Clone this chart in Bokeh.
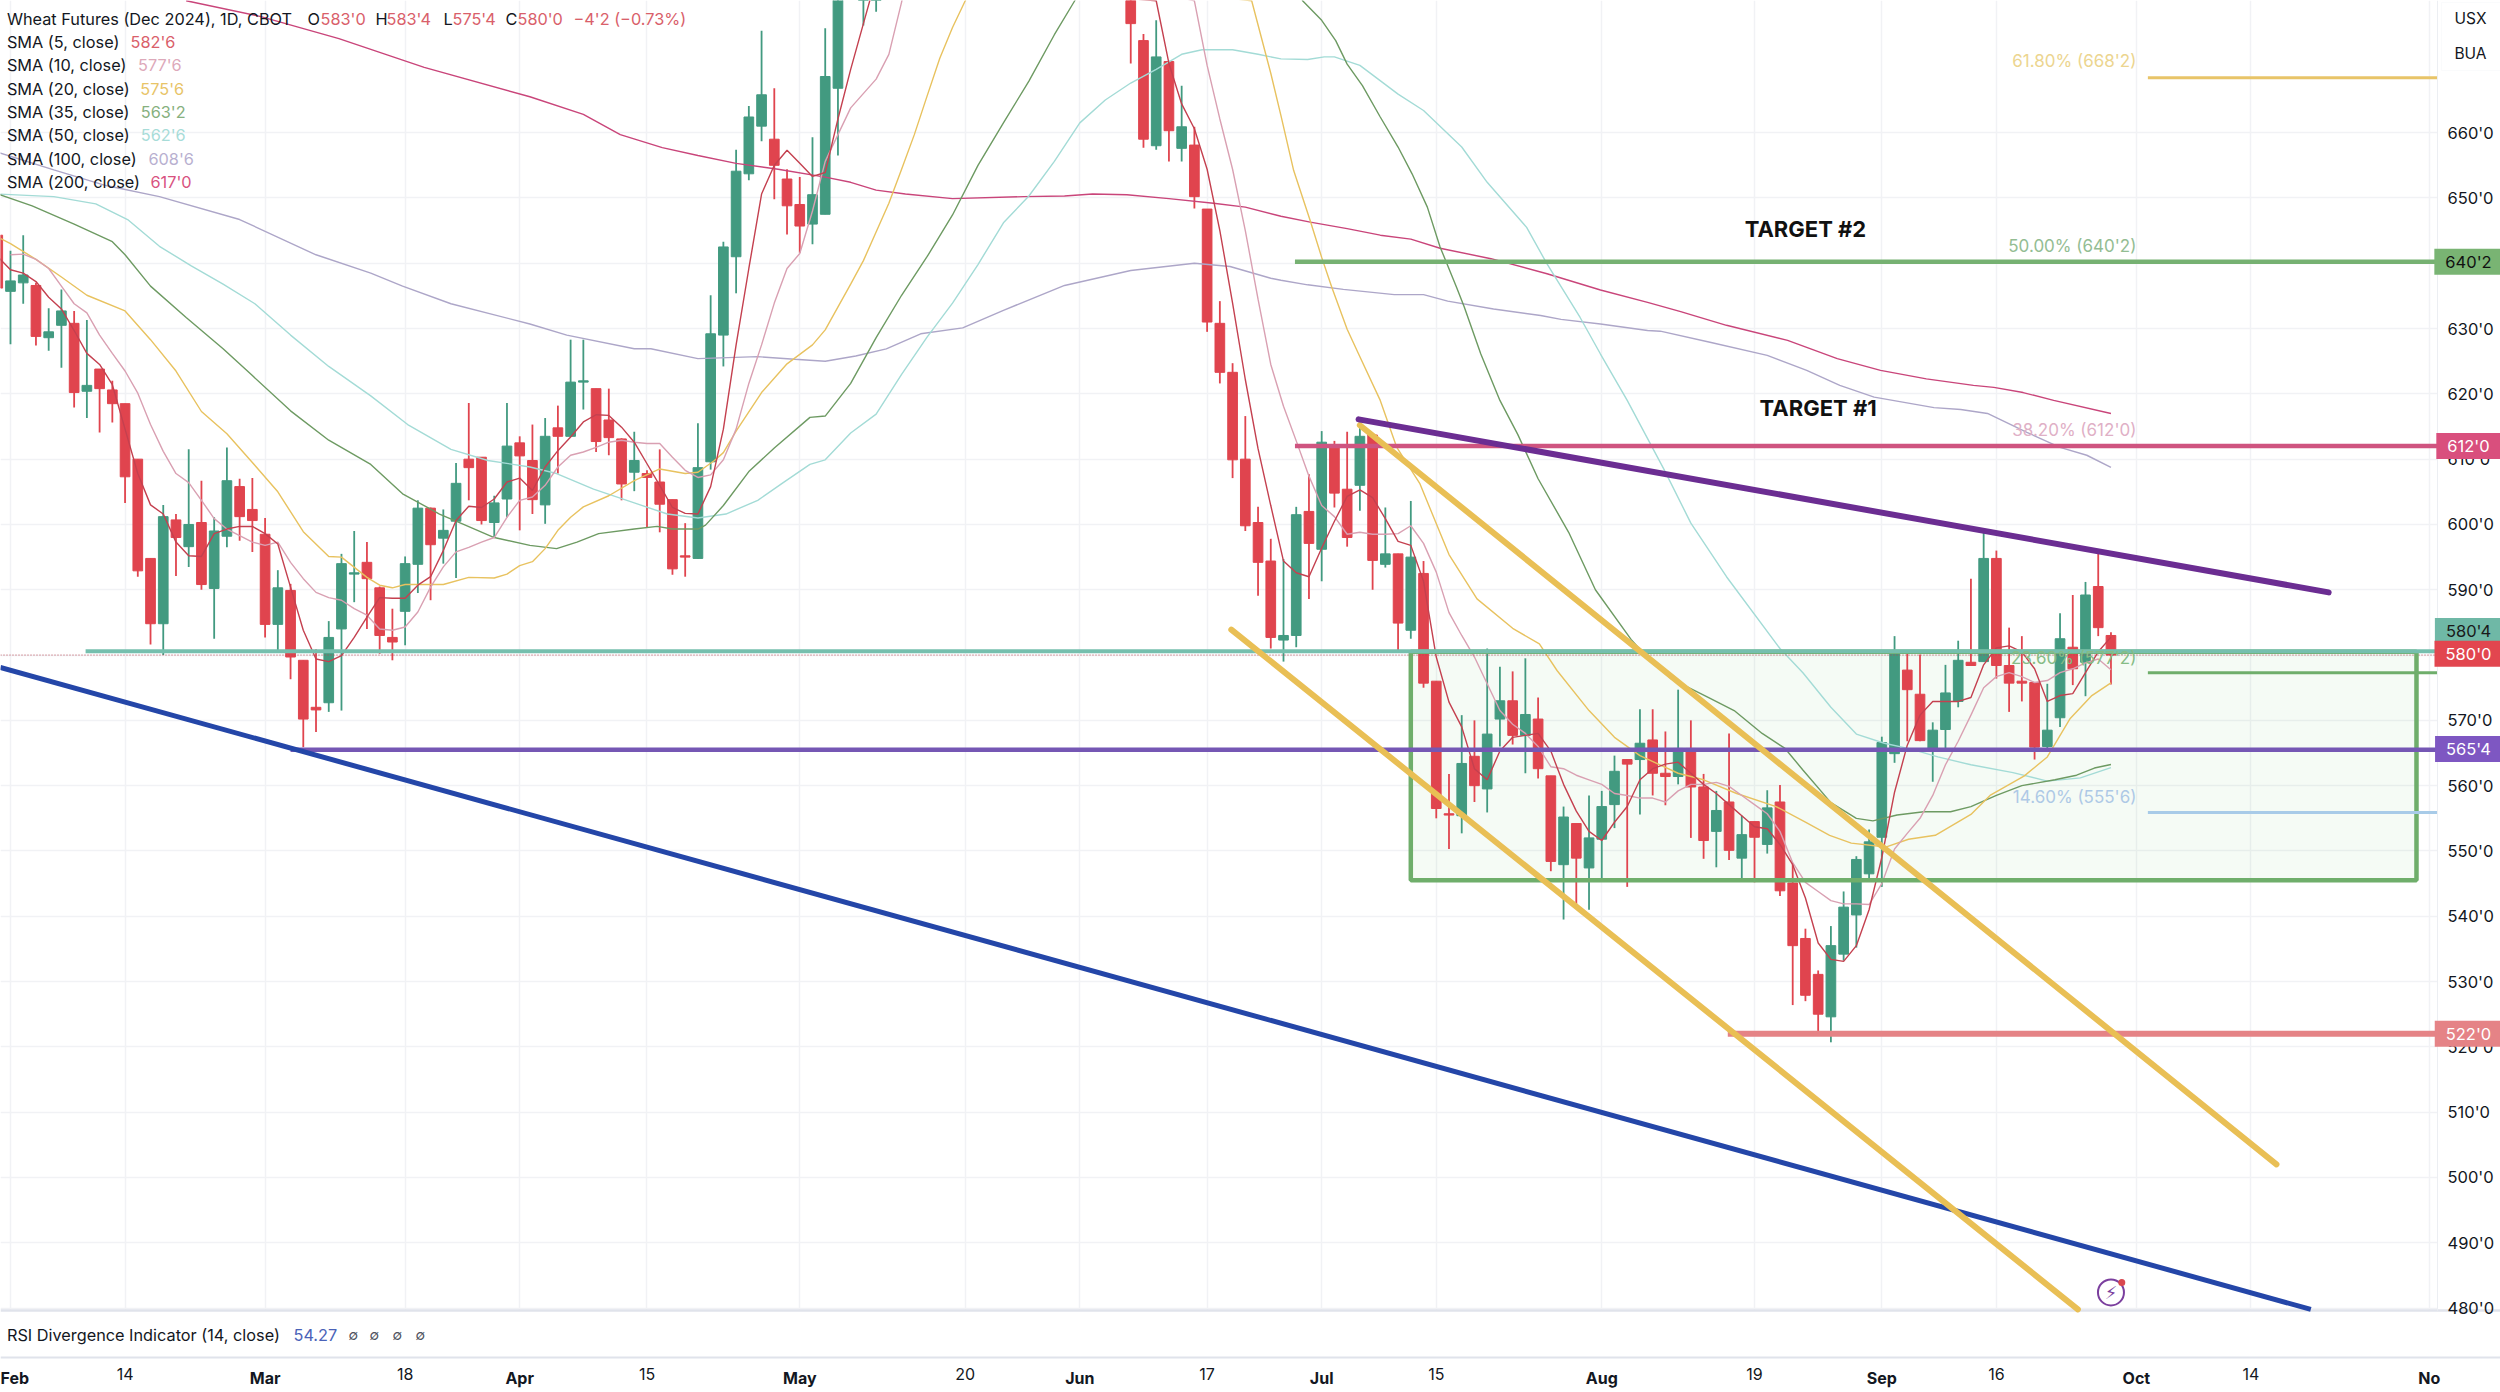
from bokeh.plotting import figure
from bokeh.models import Range1d, LinearAxis, FixedTicker, Label, BoxAnnotation, ColumnDataSource, Grid
from bokeh.core.properties import value
from bokeh.embed import file_html
from bokeh.resources import INLINE
import numpy as np

FONT = "Inter"

# ---------- candles, bar numbers run from -1 upward; None = bar lies wholly above the visible window
FIRST_BAR = -1
OPEN = [644.3, 635.7, 637, 636.6, 628.6, 630.5, 630.8, 620.4, 623.8, 620.6, 618.5,
        610, 594.8, 584.8, 600.7, 596.6, 600.3, 590.2, 598.2, 605.8, 602.3,
        598.5, 584.7, 589.9, 579.2, 572, 572.7, 584, 592.4, 594.2, 590.3,
        582.7, 586.7, 593.9, 602.5, 597.9, 600.5, 610, 610.3, 600.3, 603.9,
        612.5, 609.8, 603, 614.8, 613.5, 621.8, 620.8, 616, 613.1, 608,
        607.8, 606.5, 603.8, 595.2, 594.8, 609.6, 629, 641, 653.7, 661,
        659, 652.9, 649, 646, 647.5, 666.8, None, 682, 684] + [None] * 19 + [
        684, 674.1, 658, 670.9, 657.6, 658.1, 648.3, 630.8, 623.3, 610, 600.3, 594.4,
        582.3, 583, 602, 596.2, 612, 605.4, 606, 613.7, 593.9, 595.5,
        583.8, 592.5, 576, 555.7, 555.4, 564.5, 559.5, 570.2, 573, 567.7,
        570.2, 561.5, 547.9, 554.2, 547.4, 551.8, 557.1, 564, 564, 567,
        561.9, 561.4, 565.7, 559.8, 553, 557.5, 548.9, 554.5, 551, 557.5,
        545.1, 536.6, 531.1, 524.6, 534.2, 540.2, 546.5, 552.1, 564.9, 577.7,
        574, 565.6, 568.6, 572.9, 578.9, 579, 594.8, 578.4, 576, 575.8,
        566, 570.4, 581.2, 578.9, 590.5, 583]
HIGH = [645, 641.9, 644.3, 637, 633.1, 636, 632.7, 631.3, 623.8, 622, 618.5,
        610, 594.8, 603, 601.6, 611.5, 606.7, 601.1, 611.8, 607, 607.1,
        601, 593, 590.9, 579.2, 580.9, 585.2, 595.5, 599, 597.3, 590.5,
        587.1, 595.1, 603.7, 602.6, 602.3, 609.4, 618.6, 610.3, 604.4, 618.6,
        613.5, 615.3, 616.3, 618.2, 628.3, 628.3, 620.8, 620.8, 613.2, 614.2,
        608.3, 611.5, 603.8, 600.2, 615.5, 635.1, 643.3, 657.4, 664.1, 675.6,
        666.8, 654.4, 653.2, 659.3, 676, 690, None, 690, 692] + [None] * 19 + [
        690, 675.1, 677.2, 671, 667.2, 660.9, 648.3, 634.2, 624.7, 616.6, 602.7, 597.8,
        594.7, 602.7, 607.7, 614.3, 612.8, 614.2, 615.2, 613.7, 602.6, 595.5,
        603.6, 594.4, 576, 561.8, 570.8, 570, 581, 578.2, 577.5, 579.5,
        573.5, 561.5, 556.8, 554.2, 558.5, 559.2, 564.6, 564, 571.7, 571.7,
        568.3, 574.7, 570, 561.8, 559.2, 568, 555.4, 554.5, 559.3, 560.1,
        548.1, 538.1, 531.7, 538.5, 543.8, 549.2, 553.3, 567.5, 582.9, 580.4,
        580.1, 569.7, 578.5, 582.2, 591.7, 598.7, 596, 584.2, 582.9, 575.8,
        575.6, 586.4, 589.2, 591.2, 595.8, 583.5]
LOW = [635, 627.6, 633.8, 627.4, 626.6, 624, 617.9, 616.3, 614.1, 615.6, 603.3,
       592, 581.6, 580, 592.1, 593.5, 590, 582.5, 596.5, 597.5, 595.8,
       582.7, 580.6, 576.3, 565.9, 568.2, 571.3, 571.5, 588.1, 584, 580.2,
       579.2, 581.5, 589.5, 588.4, 594, 591.8, 603.7, 600, 598, 601.1,
       599.1, 601.6, 600.1, 607.8, 613.4, 617.6, 611.1, 610.6, 603.7, 605.1,
       599.6, 598.8, 592.3, 592, 594.7, 608.4, 624.2, 635.4, 652.7, 658.7,
       649.8, 644.4, 641.6, 642.9, 647.5, 656.5, None, 676.4, 678.5] + [None] * 19 + [
       670.6, 657.7, 657.4, 655.6, 655.6, 648.4, 629.5, 621.6, 607.1, 599, 589.1, 581,
       579, 581.2, 588.6, 591.3, 602.6, 596.6, 602.1, 590, 593.4, 580.4,
       582.5, 575, 555, 550.3, 552.7, 557.5, 555.9, 566, 566.3, 561.9,
       561.1, 546.9, 539.5, 541.5, 541, 545.6, 553.5, 544.5, 555.6, 558.5,
       557, 560.2, 552, 548.8, 547.5, 548.6, 545.5, 545.2, 549.6, 543.1,
       526.4, 527, 522.4, 520.7, 533.2, 535.2, 545.8, 544.5, 563.5, 566.8,
       566.8, 560.6, 565.6, 572, 578.4, 579, 576.4, 571.3, 572.9, 564,
       565.6, 569, 575.4, 573.7, 582.9, 575.5]
CLOSE = [636.2, 637.3, 638.2, 628.8, 629.5, 632.7, 620.2, 621.3, 620.8, 618.5, 607.3,
         592.9, 584.8, 601.2, 598, 600, 590.8, 599, 606.7, 601.2, 600.6,
         584.7, 590.3, 579.7, 570.2, 571.6, 582.7, 594, 592.6, 591.7, 583,
         582, 594, 602.5, 596.9, 599.1, 606.3, 608.7, 600.6, 603.3, 612,
         610.5, 603.8, 613.5, 613.5, 621.8, 622, 612.7, 613.3, 606.2, 609.8,
         607.2, 603.1, 593.2, 595, 608.7, 629.2, 642.5, 654.1, 662.4, 665.8,
         655, 648.8, 645.7, 650.5, 668.6, 685, None, 688, 692] + [None] * 19 + [
         676.7, 659, 671.6, 660.3, 660.9, 650.2, 631, 623.3, 609.9, 599.8, 594.2, 582.7,
         583, 601.5, 597.1, 612.6, 604.8, 598, 613.5, 594.5, 595.5, 584.9,
         595, 575.7, 556.5, 555.5, 563.4, 560, 567.9, 573, 567.7, 570.9,
         562.6, 548.4, 555.2, 548.9, 552, 556.8, 562.2, 563.3, 566.5, 561.9,
         561.4, 565.7, 559.8, 551.6, 556.2, 550.1, 552.5, 552.1, 556.6, 543.9,
         535.5, 527.9, 525, 535.5, 541.4, 548.7, 551.4, 566.6, 580.7, 574.7,
         566.9, 568.5, 574.2, 579.2, 578.4, 594.8, 578.4, 575.7, 575.7, 565.9,
         568.5, 582.5, 577.9, 589.2, 584.2, 580]

# ---------- moving averages: bar position / price
SMA5_X = list(range(-1, 69)) + list(range(90, 166))
SMA5_Y = [641, 639, 638.5, 637.2, 634.8, 633, 629.7, 626.2, 624.5, 621.4, 614.6,
          607.8, 603, 601.6, 597.3, 595.2, 595.1, 598.6, 599.3, 599.7, 599.7,
          598.6, 597, 590.4, 583.8, 579.4, 579, 579.9, 582.7, 585.8, 588.8,
          588.7, 588.7, 590.7, 592, 596, 600.6, 602.8, 602.6, 603.9, 606.5,
          607.1, 605.2, 608.8, 611.3, 613.4, 615.7, 616.8, 616.7, 614.9, 612.6,
          609.3, 606, 602.6, 601.7, 601.6, 605.8, 614.6, 627.5, 639.2, 650.6,
          655, 657.3, 655.3, 653.3, 653.9, 662.1, 669.7, 676.7, 683.7,
          680.2, 670.6, 664.4, 660.6, 654.4, 645, 633.9, 622.2, 611.6, 602.9,
          594.4, 592.6, 592, 596.4, 600.5, 604.3, 605.3, 604.1, 600.9, 597.4,
          596.8, 591.3, 579.7, 572.8, 569, 562.6, 560.9, 565.3, 567.4, 567.7,
          568, 565.3, 560.2, 556.1, 553, 551.6, 554.4, 556.8, 560.9, 562.6,
          563.3, 563.6, 561.9, 560.2, 558.8, 557.1, 555.4, 553.7, 553.4, 551,
          547.9, 542.8, 535.9, 533.4, 533.1, 535.5, 541, 549, 559, 566.2,
          570.8, 572.9, 572.9, 572.9, 573.5, 578.5, 581.1, 581.4, 580.5, 577.9,
          572.9, 573.8, 574.1, 577.3, 580.5, 582.75]
SMA10_X = list(range(0, 65)) + [66, 68, 69, 70, 71, 93, 94, 95, 96, 97, 98, 99, 100, 101] + list(range(102, 166))
SMA10_Y = [641.3, 641.4, 640.6, 639.2, 636.5, 633.8, 632.4, 629, 626.2, 623.5,
           620.1, 615.3, 611.2, 607.8, 606.4, 603.7, 600.9, 599.3, 598.3, 597.3,
           596.8, 597.3, 594.2, 591.7, 589.6, 588.8, 588.4, 587.1, 586.1, 584,
           583.8, 584.3, 586.6, 590.4, 593.5, 595.8, 596.5, 597.3, 598, 601.1,
           603.7, 604.2, 606, 608.8, 610.6, 611.1, 611.8, 612.6, 612.9, 612.6,
           612.4, 612.4, 610.3, 608.3, 607.2, 607.6, 609.9, 614.6, 621.6, 627.5,
           633.9, 639.2, 641.5, 648, 655.6,
           663.8, 668.2, 672, 680, 690,
           680.2, 670.3, 662.1, 654.4, 645, 634.5, 624.5, 618.1, 612.8,
           607.4, 602.9, 601.2, 598.5, 598.8, 598.5, 598.5, 598.6,
           599.8, 597.1, 592.7, 586.5, 583, 579.7, 575.6, 571.5, 569.4, 568,
           566, 562.9, 562.6, 561.6, 560.9, 560.2, 558.8, 558.5, 558.1, 558.1,
           557.5, 559.2, 560.2, 560.2, 560.5, 559.9, 558.5, 557.1, 555.7, 553,
           548.2, 545.2, 543.8, 542.4, 541.9, 541.9, 541.8, 545, 550.3, 552.7,
           555, 558.5, 563.2, 566.8, 570.8, 575, 576.7, 577.3, 576.7, 575.8,
           576.1, 577.3, 577.9, 578.8, 579.4, 577.75]
SMA20_X = [-1, 0, 2, 4, 6, 9, 11, 13, 15, 17, 19, 21, 23, 25, 26, 28, 29, 30, 31, 33, 34, 36, 38, 39, 40,
           41, 42, 43, 44, 45, 47, 49, 51, 53, 54, 55.3, 56, 57, 59, 61, 63, 64, 66, 67, 69, 70, 71, 72,
           73, 74, 75, 76,
           97.5, 99, 99.8, 100.8, 102.1, 103, 103.8, 105, 105.9, 107.6, 108.9, 110.7, 113, 115.2, 118,
           120.1, 121.5, 124, 126, 128, 131, 133, 135.6, 138.7, 141, 142.9, 144.6, 147.3, 149.1, 151.2,
           154, 155.5, 158.2, 160, 161.8, 163.5, 165]
SMA20_Y = [644, 643, 640.6, 637.9, 635.1, 632.7, 628.3, 623.5, 617.3, 613.9, 609.5, 605, 598.9, 595.1,
           595, 591.9, 590.7, 590.3, 590.8, 590.8, 590.8, 591.9, 591.8, 592.4, 593.7,
           594.3, 596.3, 599.1, 601.1, 602.7, 604.4, 606.7, 608.5, 607.8, 608, 609.8, 611, 614.3, 620.2,
           624.6, 627.5, 629.8, 636.8, 640.4, 649.2, 654.4, 659.7, 665.6,
           671.4, 676.1, 680.2, 685,
           680.2, 669.1, 662.6, 654.2, 646.5, 640.9, 636.3, 629.9, 626.1, 619, 611.8, 606.3, 595.4, 588.6,
           584.1, 581.7, 577.6, 571.5, 567.4, 564.6, 561.9, 560.9, 558.8, 556.8, 554.4, 552.4, 551.2,
           550.6, 551.8, 552.4, 555.6, 558.5, 561.5, 564.4, 570.3, 573.8, 575.75]
SMA35_X = [-1, 1.7, 5, 8, 9, 11, 13.8, 16.7, 19, 22, 25, 28.3, 30.8, 33.7, 35.5, 38, 40.8, 42.9, 44.5, 46.2,
           49, 50.8, 52, 54, 54.6, 56, 58, 60, 62.8, 64, 66, 68, 70, 72, 74, 76, 78, 80, 82, 83.6, 85,
           100, 101.5, 103, 104.1, 105, 106.2, 107.6, 109, 110.1, 111.3, 112.3, 113.6, 114.2, 115.5, 117,
           118.4, 120, 122.4, 124.5, 127.3, 128.4, 130.5, 133.4, 135.4, 137.6, 139.4, 140.8, 143, 145,
           146.3, 148.2, 150.3, 152.4, 154, 156, 158, 160.6, 162.3, 163.7, 165]
SMA35_Y = [650.6, 648.8, 646, 643.3, 641.3, 636.5, 631.7, 626.9, 622.8, 617.4, 612.9, 609.2, 604.7, 601.6,
           600.1, 598, 596.8, 596.3, 597.3, 598.6, 599.3, 599.7, 599.3, 599.3, 599.9, 602.9, 608.1, 611.7,
           616.4, 616.6, 621.6, 628.6, 635.1, 641, 647.4, 655, 661.5, 667.9, 675, 680.2, 688,
           690, 680.2, 677.2, 674.1, 670.5, 667.2, 662.4, 657.8, 653.7, 648.6, 642.5, 636.3, 633.3, 626.1,
           619, 613.8, 607, 598.8, 590, 582.4, 580, 576.3, 573.5, 571.5, 568, 565.7, 562.4, 557.4, 555,
           554.6, 555.5, 556, 556, 556.8, 558.5, 560, 560.9, 561.6, 562.7, 563.25]
SMA50_X = [-1, 3.4, 6.7, 9.2, 11.7, 14.2, 16.7, 19.2, 22, 25, 28.3, 31.2, 34.6, 37.5, 40.8, 42.9, 45.8, 49,
           51.6, 54, 56.2, 58.7, 60.7, 62.8, 64, 66, 68, 70, 72, 74, 76, 78, 80, 82, 84, 86, 88, 90, 92,
           93.6, 96, 98, 99.8, 101.9, 103.2, 104, 106, 109, 111, 114, 116, 119.1, 120.7, 123.3, 124.9,
           127, 129.9, 132, 134.8, 139, 140.8, 143, 145, 147.2, 149.3, 151.4, 154, 157.3, 160, 162.6, 165]
SMA50_Y = [650.6, 650.2, 649.1, 646.7, 642.6, 639.6, 636.8, 633.8, 629, 624.2, 619.7, 615.3, 611.5, 609.8,
           608.8, 607.8, 605.4, 603.3, 601.6, 601, 601.6, 603.7, 606.4, 609.2, 609.9, 614, 616.9, 623,
           628.7, 633.9, 639.8, 646.2, 650.3, 655.6, 661.5, 665, 667.6, 669.7, 672, 672.7, 672.7, 672,
           671.3, 671.2, 671.6, 671.6, 670.3, 665.9, 663.4, 657.8, 652.4, 645.5, 639.9, 631.7, 626.1, 619,
           608.4, 600.2, 592, 581, 577.3, 572, 567.9, 566.5, 565.6, 564.4, 563.2, 562, 560.7, 561.2, 562.75]
SMA100_X = [-1, 3.4, 7.5, 11.7, 18, 24, 28.3, 30.8, 34.6, 40.8, 43.7, 49, 50.3, 54, 58.7, 61.6, 64, 66.4, 68.8,
            71.5, 74.8, 78, 82.8, 88, 93, 95.8, 99, 99.8, 101.9, 104.7, 108.7, 111, 112.9, 116.5, 120.2, 121.8,
            124.9, 128.6, 129.6, 133.5, 138, 141.1, 143.7, 146.4, 151.1, 153.2, 155.3, 158.4, 161, 163.1, 165]
SMA100_Y = [657, 654.3, 651.9, 650.2, 646.7, 641.3, 638.5, 636.5, 633.8, 630.7, 629, 626.9, 626.9, 625.4, 625.7,
            625.3, 625, 625.8, 626.9, 629.2, 630.1, 632.8, 636.6, 638.9, 640, 639.5, 637.7, 637.4, 636.7, 636,
            635.2, 635.2, 634.2, 633, 632, 631.4, 630.7, 629.7, 629.6, 627.9, 625.9, 623.6, 621.3, 619.5,
            617.9, 617.6, 617, 614.1, 611.8, 610.6, 608.75]
SMA200_X = [13.8, 19.6, 25.8, 32.5, 40.8, 45, 47.9, 51.2, 54, 57, 60.3, 64, 66, 68, 70.3, 74, 79.6, 82.8, 85,
            87.7, 91, 94.5, 97, 99.8, 102.1, 105, 107.6, 110, 112.3, 116.3, 120.7, 124.9, 128.6, 131.2, 134.8,
            139.6, 143.5, 146.9, 150.5, 154.2, 155.8, 158.1, 160.5, 165]
SMA200_Y = [680.2, 677.8, 674.4, 670, 665.5, 662.8, 659.7, 657.7, 656.5, 655.3, 654.4, 653.2, 652.4, 651.2, 650.6,
            649.9, 650.2, 650.3, 650.6, 650.5, 649.9, 649.2, 648.6, 647.2, 646.3, 645.3, 644.3, 643.7, 642.3,
            640.7, 638.4, 635.9, 634, 632.6, 630.5, 628.2, 625.4, 623.6, 622.3, 621.3, 621, 620.2, 619, 617]

# ---------- drawn trend lines and levels: [bar, bar], [price, price]
BLUE_X, BLUE_Y = [-0.8, 180.7], [578.1, 479.8]
CHANNEL_UP_X, CHANNEL_UP_Y = [106, 178], [615.2, 502]
CHANNEL_LOW_X, CHANNEL_LOW_Y = [95.9, 162.4], [583.9, 479.8]
RESIST_X, RESIST_Y = [105.9, 182.1], [616.1, 589.6]
LEVEL_TEAL = (5.9, 580.6)
LEVEL_PURPLE = (22, 565.5)
LEVEL_CRIMSON = (100.9, 612)
LEVEL_GREEN = (100.9, 640.25)
LEVEL_SALMON = (134.9, 522)
LAST_PRICE = 580
BOX_X = (110, 189)
BOX_Y = (545.5, 580.5)
FIB_X = (167.9, 190.65)
FIB_LEVELS = [668.4, 577.3, 555.9]
FIB_COLORS = ["#e8c468", "#6fae6b", "#a8cbe8"]
FIB_TEXT_X = 167
FIB_TEXT = ["61.80% (668'2)", "50.00% (640'2)", "38.20% (612'0)", "23.60% (577'2)", "14.60% (555'6)"]
FIB_TEXT_Y = [670.9, 642.7, 614.5, 579.6, 558.3]
FIB_TEXT_COLOR = ["#ecd58f", "#93bd93", "#dfb0c6", "#86bc86", "#aec9e6"]
TARGET_TEXT = ["TARGET #2", "TARGET #1"]
TARGET_X = [141, 142]
TARGET_Y = [645.3, 617.8]

# ---------- tags on the price scale
TAGS = [("580'4", 583.7, "#6fb8a6", "#1a1a1a"), ("580'0", 580.2, "#e2464f", "#ffffff"),
        ("640'2", 640.25, "#79b473", "#111111"), ("612'0", 612, "#d94f7d", "#ffffff"),
        ("565'4", 565.6, "#7e57c2", "#ffffff"), ("522'0", 522, "#e58386", "#ffffff")]
PRICE_TICKS = list(range(480, 670, 10))
MONTH_TICKS = [0, 20, 40, 62, 84, 103, 125, 147, 167, 190]
MONTH_LABELS = ["Feb", "Mar", "Apr", "May", "Jun", "Jul", "Aug", "Sep", "Oct", "No"]
DAY_TICKS = [9, 31, 50, 75, 94, 112, 137, 156, 176]
DAY_LABELS = ["14", "18", "15", "20", "17", "15", "19", "16", "14"]

LEGEND_NAMES = ["SMA (5, close)", "SMA (10, close)", "SMA (20, close)", "SMA (35, close)",
                "SMA (50, close)", "SMA (100, close)", "SMA (200, close)"]
LEGEND_VALUES = ["582'6", "577'6", "575'6", "563'2", "562'6", "608'6", "617'0"]
LEGEND_COLORS = ["#d9606a", "#dda9ba", "#e8c468", "#86b07e", "#a7dcd8", "#b8b0d0", "#d8527f"]
SMA_COLORS = ["#c4404f", "#d9a0b2", "#e8c25f", "#6d9a62", "#a3dbd6", "#ada6c8", "#c9457a"]

# ---------- page geometry (bar n sits 10 + 12.73 n px from the left; 10 price units = 65.3 px)
W, H = 2500, 1392
X_RANGE = (-0.785, 195.6)
Y_RANGE = (467.07, 680.24)
PANE_LEFT_EDGE = 190.65          # bar position of the price scale's edge
PANE_BOTTOM = 479.63             # price at the bottom edge of the main pane
TIME_AXIS_AT = 472.43            # price position of the time scale's rule
GREEN, RED = "#429a80", "#e0444e"
GRID = "#f1f2f5"
RULE = "#e0e3eb"

p = figure(width=W, height=H, output_backend="svg", toolbar_location=None,
           x_range=Range1d(*X_RANGE), y_range=Range1d(*Y_RANGE),
           min_border_left=0, min_border_right=0, min_border_top=0, min_border_bottom=0,
           x_axis_location=None, y_axis_location=None, outline_line_color=None,
           background_fill_color="white", border_fill_color="white")
p.xgrid.visible = False
p.ygrid.visible = False

ALL_TICKS = MONTH_TICKS + DAY_TICKS
p.add_layout(Grid(dimension=1, ticker=FixedTicker(ticks=PRICE_TICKS), grid_line_color=GRID, grid_line_width=1.5))
p.add_layout(Grid(dimension=0, ticker=FixedTicker(ticks=ALL_TICKS), grid_line_color=GRID, grid_line_width=1.5))

# white masks: price strip and lower panes carry no grid
p.quad(left=[PANE_LEFT_EDGE], right=[X_RANGE[1]], bottom=[Y_RANGE[0]], top=[Y_RANGE[1]], fill_color="white", line_color=None)
p.quad(left=[X_RANGE[0]], right=[X_RANGE[1]], bottom=[Y_RANGE[0]], top=[PANE_BOTTOM], fill_color="white", line_color=None)

# axes pinned inside the single frame
yaxis = LinearAxis(fixed_location=PANE_LEFT_EDGE, ticker=FixedTicker(ticks=PRICE_TICKS),
                   major_label_overrides={v: f"{v}'0" for v in PRICE_TICKS},
                   major_tick_line_color=None, minor_tick_line_color=None,
                   axis_line_color="#eceef2", axis_line_width=1, bounds=(PANE_BOTTOM, Y_RANGE[1]),
                   major_label_standoff=4, major_label_text_font=FONT,
                   major_label_text_font_size="16.5px", major_label_text_color="#131722")
p.add_layout(yaxis, "right")
month_axis = LinearAxis(fixed_location=TIME_AXIS_AT, ticker=FixedTicker(ticks=MONTH_TICKS),
                        major_label_overrides=dict(zip(MONTH_TICKS, MONTH_LABELS)),
                        major_tick_line_color=None, minor_tick_line_color=None,
                        axis_line_color=RULE, axis_line_width=2, major_label_standoff=5,
                        major_label_text_font=FONT, major_label_text_font_size="16px",
                        major_label_text_font_style="bold", major_label_text_color="#131722")
p.add_layout(month_axis, "below")
day_axis = LinearAxis(fixed_location=TIME_AXIS_AT, ticker=FixedTicker(ticks=DAY_TICKS),
                      major_label_overrides=dict(zip(DAY_TICKS, DAY_LABELS)),
                      major_tick_line_color=None, minor_tick_line_color=None,
                      axis_line_color=None, major_label_standoff=5,
                      major_label_text_font=FONT, major_label_text_font_size="16px",
                      major_label_text_color="#131722")
p.add_layout(day_axis, "below")
p.line(list(X_RANGE), [PANE_BOTTOM, PANE_BOTTOM], line_color=RULE, line_width=2.5)

# box fill below candles
p.quad(left=[BOX_X[0]], right=[BOX_X[1]], bottom=[BOX_Y[0]], top=[BOX_Y[1]],
       fill_color="#4caf50", fill_alpha=0.055, line_color=None)

# candles
bars = FIRST_BAR + np.arange(len(OPEN))
o, h, l, c = [np.array(a, dtype=float) for a in (OPEN, HIGH, LOW, CLOSE)]
assert len(o) == len(h) == len(l) == len(c) == 167
colors = [GREEN if cc >= oo else RED for oo, cc in zip(o, c)]
src = ColumnDataSource(dict(x=bars, o=o, h=h, l=l, c=c, color=colors))
p.segment(x0="x", x1="x", y0="l", y1="h", line_color="color", line_width=1.8, source=src)
p.vbar(x="x", width=0.76, top="o", bottom="c", fill_color="color", line_color="color", line_width=1, source=src)

# moving averages
SMA_DATA = [(SMA200_X, SMA200_Y, SMA_COLORS[6]), (SMA100_X, SMA100_Y, SMA_COLORS[5]),
            (SMA50_X, SMA50_Y, SMA_COLORS[4]), (SMA35_X, SMA35_Y, SMA_COLORS[3]),
            (SMA20_X, SMA20_Y, SMA_COLORS[2]), (SMA10_X, SMA10_Y, SMA_COLORS[1]),
            (SMA5_X, SMA5_Y, SMA_COLORS[0])]
for xs, ys, col in SMA_DATA:
    assert len(xs) == len(ys), col
    p.line(xs, ys, line_color=col, line_width=1.4)

# last-price dotted line
p.line([X_RANGE[0], PANE_LEFT_EDGE], [LAST_PRICE, LAST_PRICE], line_color="#b8474f", line_width=1, line_dash="1 2")

# box border
p.quad(left=[BOX_X[0]], right=[BOX_X[1]], bottom=[BOX_Y[0]], top=[BOX_Y[1]],
       fill_color=None, line_color="#6fae6b", line_width=4.5)

# levels
for (start, lvl), col, w in [(LEVEL_TEAL, "#76bfae", 4), (LEVEL_GREEN, "#76b172", 4.5),
                             (LEVEL_CRIMSON, "#cf5480", 4.5), (LEVEL_SALMON, "#e58386", 6),
                             (LEVEL_PURPLE, "#7557b4", 4.5)]:
    p.line([start, PANE_LEFT_EDGE], [lvl, lvl], line_color=col, line_width=w)
for lvl, col in zip(FIB_LEVELS, FIB_COLORS):
    p.line(list(FIB_X), [lvl, lvl], line_color=col, line_width=3)

# trend lines
p.line(BLUE_X, BLUE_Y, line_color="#2446a8", line_width=5)
p.line(CHANNEL_UP_X, CHANNEL_UP_Y, line_color="#e9bf55", line_width=6, line_cap="round")
p.line(CHANNEL_LOW_X, CHANNEL_LOW_Y, line_color="#e9bf55", line_width=6, line_cap="round")
p.line(RESIST_X, RESIST_Y, line_color="#6b2d92", line_width=6, line_cap="round")

# fib and target text
p.text(x=[FIB_TEXT_X] * 5, y=FIB_TEXT_Y, text=FIB_TEXT, text_color=FIB_TEXT_COLOR,
       text_align="right", text_baseline="middle", text_font=value(FONT), text_font_size="17px")
p.text(x=TARGET_X, y=TARGET_Y, text=TARGET_TEXT, text_color="#111111", text_align="center",
       text_baseline="middle", text_font=value(FONT), text_font_size="22px", text_font_style="bold")

# event marker
p.scatter([165], [482.4], size=26, marker="circle", fill_color="white", fill_alpha=0,
          line_color="#7b3f9e", line_width=2)
p.text(x=[165], y=[482.4], text=["\u26A1"], text_color="#7b3f9e", text_align="center",
       text_baseline="middle", text_font=value("DejaVu Sans"), text_font_size="18px")
p.scatter([165.85], [483.9], size=7, marker="circle", fill_color="#d9484f", line_color=None)


def label(text, px, py, color="#131722", size="16.3px", style="normal", align="left"):
    p.add_layout(Label(x=px, y=H - py, x_units="screen", y_units="screen", text=text,
                       text_color=color, text_font=FONT, text_font_size=size, text_font_style=style,
                       text_align=align, text_baseline="middle"))


# legend
label("Wheat Futures (Dec 2024), 1D, CBOT", 6.4, 18)
for txt, px, col in [("O", 307, "#131722"), ("583'0", 320, "#d9606a"), ("H", 375, "#131722"),
                     ("583'4", 386, "#d9606a"), ("L", 443, "#131722"), ("575'4", 452, "#d9606a"),
                     ("C", 505, "#131722"), ("580'0", 517, "#d9606a"),
                     ("\u22124'2 (\u22120.73%)", 573, "#d9606a")]:
    label(txt, px, 18, col)
VAL_X = [130, 137.6, 139.8, 140.3, 140.3, 148, 150]
for i, (n, v, col) in enumerate(zip(LEGEND_NAMES, LEGEND_VALUES, LEGEND_COLORS)):
    py = 41.5 + i * 23.3
    label(n, 6.4, py)
    label(v, VAL_X[i], py, col)

# scale tags
for txt, v, bg, fg in TAGS:
    p.add_layout(Label(x=2468, y=v, x_units="screen", y_units="data", text=txt, text_color=fg,
                       text_font=FONT, text_font_size="16.5px", text_align="center", text_baseline="middle",
                       background_fill_color=bg, padding=(11, 3)))

# currency / unit chip
p.add_layout(BoxAnnotation(left=2441, right=2500, top=H - 2, bottom=H - 70,
                           left_units="screen", right_units="screen", top_units="screen", bottom_units="screen",
                           fill_color="white", fill_alpha=1, line_color="#f0f1f4", line_width=1))
label("USX", 2470, 18, align="center", size="15.5px")
label("BUA", 2470, 53, align="center", size="15.5px")

# indicator pane
label("RSI Divergence Indicator (14, close)", 6.4, 1334)
label("54.27", 293, 1334, "#4a62b8")
for px in [348, 369, 392, 415]:
    label("\u2205", px, 1334, "#50535e", size="14px")

open("out.html", "w").write(file_html(p, INLINE))
